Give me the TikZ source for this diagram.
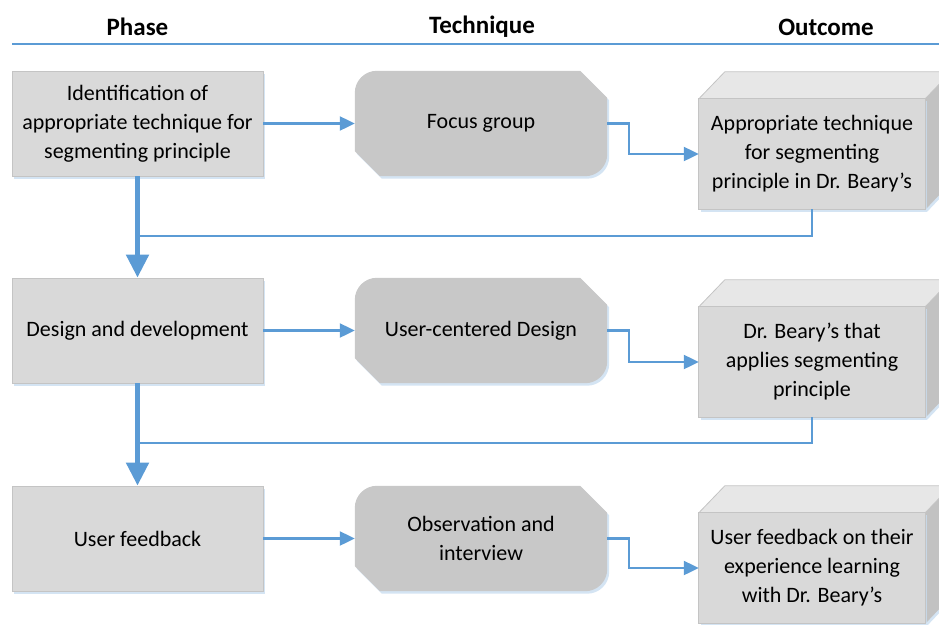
\documentclass[tikz,border=0pt]{standalone}
\usepackage{fontspec}
\setmainfont{Carlito}
\usetikzlibrary{arrows.meta,backgrounds,shadows}

\definecolor{flowblue}{HTML}{5B9BD5}
\definecolor{phasefill}{HTML}{D9D9D9}
\definecolor{phaseedge}{HTML}{C4C4C4}
\definecolor{techfill}{HTML}{C8C8C8}
\definecolor{cubefront}{HTML}{D9D9D9}
\definecolor{cubetop}{HTML}{E7E7E7}
\definecolor{cubeside}{HTML}{C2C2C2}
\definecolor{glow}{HTML}{C9DDF0}

\tikzset{
  boxtext/.style={font=\fontsize{22}{29}\selectfont, align=center, text=black},
  header/.style={font=\fontsize{25}{28}\selectfont\bfseries},
  softglow/.style={drop shadow={fill=glow, opacity=0.8, shadow xshift=2pt, shadow yshift=-2.5pt}},
  phasebox/.style={boxtext, rectangle, fill=phasefill, draw=phaseedge, line width=0.8pt,
    minimum width=251pt, minimum height=105pt, inner sep=0pt, softglow},
  techbox/.style={boxtext, rectangle, draw=none, minimum width=252pt, minimum height=105pt, inner sep=0pt},
  outbox/.style={boxtext, rectangle, draw=none, minimum width=226pt, minimum height=110pt, inner sep=0pt},
  flow/.style={draw=flowblue, line width=2.2pt, -{Triangle[width=14pt,length=15pt]}},
  feedback/.style={draw=flowblue, line width=2.2pt},
  mainflow/.style={draw=flowblue, line width=5pt, -{Triangle[width=22pt,length=23pt]}},
}

% technique box: rounded top-left / bottom-right, cut top-right / bottom-left
\newcommand{\techshape}[1]{%
  \fill[techfill, softglow]
    ([xshift=22pt]#1.north west) -- ([xshift=-27pt]#1.north east)
    -- ([yshift=-27pt]#1.north east) -- ([yshift=22pt]#1.south east)
    arc[start angle=0, end angle=-90, radius=22pt]
    -- ([xshift=25pt]#1.south west) -- ([yshift=25pt]#1.south west)
    -- ([yshift=-22pt]#1.north west)
    arc[start angle=180, end angle=90, radius=22pt] -- cycle;}

% outcome box drawn as a cube: front face, top face and right side face
\newcommand{\cubeshape}[1]{%
  \fill[cubetop, draw=phaseedge, line width=0.8pt]
    (#1.north west) -- ++(26pt,27pt) -- ++(240pt,0pt) -- (#1.north east) -- cycle;
  \fill[cubeside, draw=phaseedge, line width=0.8pt, softglow]
    (#1.north east) -- ++(26pt,27pt) -- ++(0pt,-110pt) -- (#1.south east) -- cycle;
  \fill[cubefront, draw=phaseedge, line width=0.8pt, softglow]
    (#1.south west) rectangle (#1.north east);}

\begin{document}
\begin{tikzpicture}[x=1pt, y=-1pt]
  \useasboundingbox (0,0) rectangle (939,624);

  % column headers
  \node[header] (hphase) at (137.5,27) {Phase};
  \node[header] (htech) at (482,27) {Technique};
  \node[header] (hout) at (826,27) {Outcome};
  \coordinate (ruleL) at (12,44);
  \coordinate (ruleR) at (939,44);
  \draw[flowblue, line width=2.5pt] (ruleL) -- (ruleR);

  % phases
  \node[phasebox] (p1) at (137.5,123.5) {Identification of\\appropriate technique for\\segmenting principle};
  \node[phasebox] (p2) at (137.5,330.5) {Design and development};
  \node[phasebox] (p3) at (137.5,538.5) {User feedback};

  % techniques
  \node[techbox] (t1) at (481,123.5) {Focus group};
  \node[techbox] (t2) at (481,330.5) {User-centered Design};
  \node[techbox] (t3) at (481,538.5) {Observation and\\interview};

  % outcomes
  \node[outbox] (o1) at (812,154) {Appropriate technique\\for segmenting\\principle in Dr. Beary’s};
  \node[outbox] (o2) at (812,362) {Dr. Beary’s that\\applies segmenting\\principle};
  \node[outbox] (o3) at (812,568) {User feedback on their\\experience learning\\with Dr. Beary’s};

  \begin{scope}[on background layer]
    \techshape{t1}
    \techshape{t2}
    \techshape{t3}
    \cubeshape{o1}
    \cubeshape{o2}
    \cubeshape{o3}
  \end{scope}

  % phase -> technique -> outcome
  \foreach \i in {1,2,3}{
    \draw[flow] (p\i.east) -- (t\i.west);
    \draw[flow] (t\i.east) -- ++(22,0) |- (o\i.west);
  }

  % outcomes feed back into the main flow
  \draw[feedback] (o1.south) -- ++(0,27) coordinate (j1) -- (j1 -| p1.south);
  \draw[feedback] (o2.south) -- ++(0,26) coordinate (j2) -- (j2 -| p2.south);

  % main flow between phases
  \draw[mainflow] (p1.south) -- (p2.north);
  \draw[mainflow] (p2.south) -- (p3.north);
\end{tikzpicture}
\end{document}
